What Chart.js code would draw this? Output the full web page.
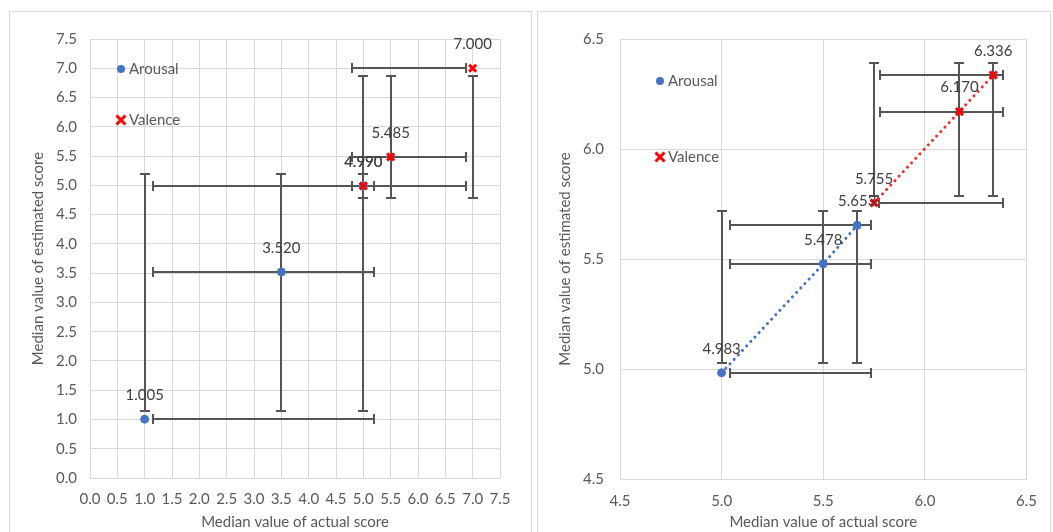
<!DOCTYPE html>
<html><head><meta charset="utf-8">
<script src="https://cdn.jsdelivr.net/npm/chart.js@4.4.1/dist/chart.umd.min.js"></script>
<style>
html,body{margin:0;padding:0;background:#fff;width:1053px;height:532px;overflow:hidden;}
.frame{position:absolute;border:1px solid #d9d9d9;background:#fff;}
#f1{left:9px;top:11px;width:521px;height:520px;}
#f2{left:537px;top:11px;width:512px;height:520px;}
canvas{display:block;}
</style></head><body>
<div class="frame" id="f1"><canvas id="c1" width="521" height="520"></canvas></div>
<div class="frame" id="f2"><canvas id="c2" width="512" height="520"></canvas></div>
<script>
// ---------- Data: left panel (full range) ----------
const seriesNames = ['Arousal', 'Valence'];
const leftArousalX = [1.0, 3.5, 5.0];
const leftArousalY = [1.005, 3.520, 4.990];
const leftArousalXLow  = [1.15, 1.15, 1.15];
const leftArousalXHigh = [5.2, 5.2, 5.2];
const leftArousalYLow  = [1.15, 1.15, 1.15];
const leftArousalYHigh = [5.2, 5.2, 5.2];
const leftValenceX = [5.0, 5.5, 7.0];
const leftValenceY = [4.990, 5.485, 7.000];
const leftValenceXLow  = [4.8, 4.8, 4.8];
const leftValenceXHigh = [6.88, 6.88, 6.88];
const leftValenceYLow  = [4.78, 4.78, 4.78];
const leftValenceYHigh = [6.87, 6.87, 6.87];
const leftAxisMin = 0.0, leftAxisMax = 7.5, leftAxisStep = 0.5;

// ---------- Data: right panel (zoomed) ----------
const rightArousalX = [5.0, 5.5, 5.667];
const rightArousalY = [4.983, 5.478, 5.653];
const rightArousalXLow  = [5.04, 5.04, 5.04];
const rightArousalXHigh = [5.735, 5.735, 5.735];
const rightArousalYLow  = [5.027, 5.027, 5.027];
const rightArousalYHigh = [5.718, 5.718, 5.718];
const rightValenceX = [5.75, 6.17, 6.336];
const rightValenceY = [5.755, 6.170, 6.336];
const rightValenceXLow  = [5.775, 5.78, 5.78];
const rightValenceXHigh = [6.385, 6.385, 6.385];
const rightValenceYLow  = [5.785, 5.785, 5.785];
const rightValenceYHigh = [6.39, 6.39, 6.39];
const rightAxisMin = 4.5, rightAxisMax = 6.5, rightAxisStep = 0.5;

const xTitle = 'Median value of actual score';
const yTitle = 'Median value of estimated score';

// ---------- Styles ----------
const FONT = 'Lato, "Open Sans", sans-serif';
const FS = 15;
const TXT = '#595959';
const GRID = '#d9d9d9';
const BLUE = '#4472C4';
const RED = '#ff0000';

function pts(xs, ys){ return xs.map((x,i)=>({x:x, y:ys[i]})); }

const errorBarPlugin = {
  id: 'errorBars',
  beforeDatasetsDraw(chart) {
    const {ctx} = chart; const xs = chart.scales.x, ys = chart.scales.y;
    ctx.save();
    ctx.strokeStyle = '#555555'; ctx.lineWidth = 2; ctx.lineCap = 'butt';
    const cap = 5;
    const seg = (a,b,c,d)=>{ctx.beginPath();ctx.moveTo(a,b);ctx.lineTo(c,d);ctx.stroke();};
    chart.data.datasets.forEach(ds => {
      const e = ds.errorBars; if (!e) return;
      ds.data.forEach((p,i) => {
        const px = Math.round(xs.getPixelForValue(p.x)), py = Math.round(ys.getPixelForValue(p.y));
        const y1 = Math.round(ys.getPixelForValue(e.yLow[i])), y2 = Math.round(ys.getPixelForValue(e.yHigh[i]));
        seg(px, y1, px, y2); seg(px-cap, y1, px+cap, y1); seg(px-cap, y2, px+cap, y2);
        const x1 = Math.round(xs.getPixelForValue(e.xLow[i])), x2 = Math.round(xs.getPixelForValue(e.xHigh[i]));
        seg(x1, py, x2, py); seg(x1, py-cap, x1, py+cap); seg(x2, py-cap, x2, py+cap);
      });
    });
    ctx.restore();
  }
};

const dataLabelPlugin = {
  id: 'valueLabels',
  afterDatasetsDraw(chart) {
    const {ctx} = chart;
    ctx.save();
    ctx.font = FS + 'px ' + FONT; ctx.fillStyle = '#404040';
    ctx.textAlign = 'center'; ctx.textBaseline = 'middle';
    chart.data.datasets.forEach((ds, di) => {
      const meta = chart.getDatasetMeta(di);
      meta.data.forEach((el, i) => {
        ctx.fillText(ds.data[i].y.toFixed(3), el.x, el.y - 24);
      });
    });
    ctx.restore();
  }
};

function drawMarker(ctx, style, x, y) {
  ctx.save();
  if (style === 'circle') {
    ctx.fillStyle = BLUE; ctx.beginPath(); ctx.arc(x, y, 4, 0, Math.PI*2); ctx.fill();
  } else {
    ctx.strokeStyle = RED; ctx.lineWidth = 3; const r = 4.5;
    ctx.beginPath(); ctx.moveTo(x-r,y-r); ctx.lineTo(x+r,y+r); ctx.moveTo(x+r,y-r); ctx.lineTo(x-r,y+r); ctx.stroke();
  }
  ctx.restore();
}

const insideLegendPlugin = {
  id: 'insideLegend',
  afterDraw(chart, args, opts) {
    const {ctx} = chart;
    ctx.save();
    ctx.font = FS + 'px ' + FONT; ctx.textAlign = 'left'; ctx.textBaseline = 'middle';
    opts.items.forEach((it, i) => {
      const ds = chart.data.datasets[i];
      drawMarker(ctx, ds.pointStyle, it.x, it.y);
      ctx.fillStyle = TXT;
      ctx.fillText(ds.label, it.x + 8, it.y);
    });
    ctx.restore();
  }
};

function makeChart(id, cfg) {
  const fmt = v => Number(v).toFixed(1);
  const axis = (isX) => ({
    type: 'linear', min: cfg.min, max: cfg.max,
    ticks: { stepSize: cfg.step, color: TXT, font: {family: FONT, size: FS}, padding: isX ? cfg.xTickPad : cfg.yTickPad, callback: fmt, maxRotation: 0, autoSkip: false },
    grid: { color: GRID, lineWidth: 1, drawTicks: false },
    border: { color: GRID, width: 1 },
    title: { display: true, text: isX ? xTitle : yTitle, color: TXT, font: {family: FONT, size: FS}, padding: isX ? {top:0, bottom:1} : {top: cfg.yTitlePad, bottom:0} },
    afterFit: (s) => { if (isX) s.height = cfg.xHeight; else s.width = cfg.yWidth; }
  });
  return new Chart(document.getElementById(id), {
    type: 'scatter',
    data: { datasets: [
      { label: seriesNames[0], order: 2, data: pts(cfg.ax, cfg.ay), pointStyle: 'circle', pointRadius: 4, pointHoverRadius: 4,
        backgroundColor: BLUE, borderColor: BLUE, showLine: cfg.lines, borderWidth: 3, borderDash: [0.1, 6], borderCapStyle: 'round',
        pointBorderWidth: 1,
        errorBars: {xLow: cfg.axl, xHigh: cfg.axh, yLow: cfg.ayl, yHigh: cfg.ayh} },
      { label: seriesNames[1], order: 1, data: pts(cfg.vx, cfg.vy), pointStyle: 'crossRot', pointRadius: 5, pointHoverRadius: 5,
        backgroundColor: RED, borderColor: '#f03030', pointBorderColor: RED, pointBorderWidth: 3, showLine: cfg.lines, borderWidth: 3, borderDash: [0.1, 6], borderCapStyle: 'round',
        errorBars: {xLow: cfg.vxl, xHigh: cfg.vxh, yLow: cfg.vyl, yHigh: cfg.vyh} }
    ]},
    options: {
      responsive: false, animation: false, devicePixelRatio: 1,
      layout: { padding: { top: cfg.padTop, right: cfg.padRight, left: 0, bottom: 0 } },
      scales: { x: axis(true), y: axis(false) },
      plugins: { legend: {display: false}, tooltip: {enabled: false}, insideLegend: { items: cfg.legend } }
    },
    plugins: [errorBarPlugin, dataLabelPlugin, insideLegendPlugin]
  });
}

makeChart('c1', {
  min: leftAxisMin, max: leftAxisMax, step: leftAxisStep, lines: false,
  ax: leftArousalX, ay: leftArousalY, axl: leftArousalXLow, axh: leftArousalXHigh, ayl: leftArousalYLow, ayh: leftArousalYHigh,
  vx: leftValenceX, vy: leftValenceY, vxl: leftValenceXLow, vxh: leftValenceXHigh, vyl: leftValenceYLow, vyh: leftValenceYHigh,
  padTop: 27, padRight: 31, yWidth: 80, xHeight: 54, yTickPad: 13, xTickPad: 12, yTitlePad: 19,
  legend: [{x: 111, y: 57}, {x: 111, y: 108}]
});
makeChart('c2', {
  min: rightAxisMin, max: rightAxisMax, step: rightAxisStep, lines: true,
  ax: rightArousalX, ay: rightArousalY, axl: rightArousalXLow, axh: rightArousalXHigh, ayl: rightArousalYLow, ayh: rightArousalYHigh,
  vx: rightValenceX, vy: rightValenceY, vxl: rightValenceXLow, vxh: rightValenceXHigh, vyl: rightValenceYLow, vyh: rightValenceYHigh,
  padTop: 27, padRight: 14, yWidth: 82, xHeight: 53, yTickPad: 16, xTickPad: 13, yTitlePad: 18,
  legend: [{x: 122, y: 69}, {x: 122, y: 145}]
});
</script>
</body></html>
